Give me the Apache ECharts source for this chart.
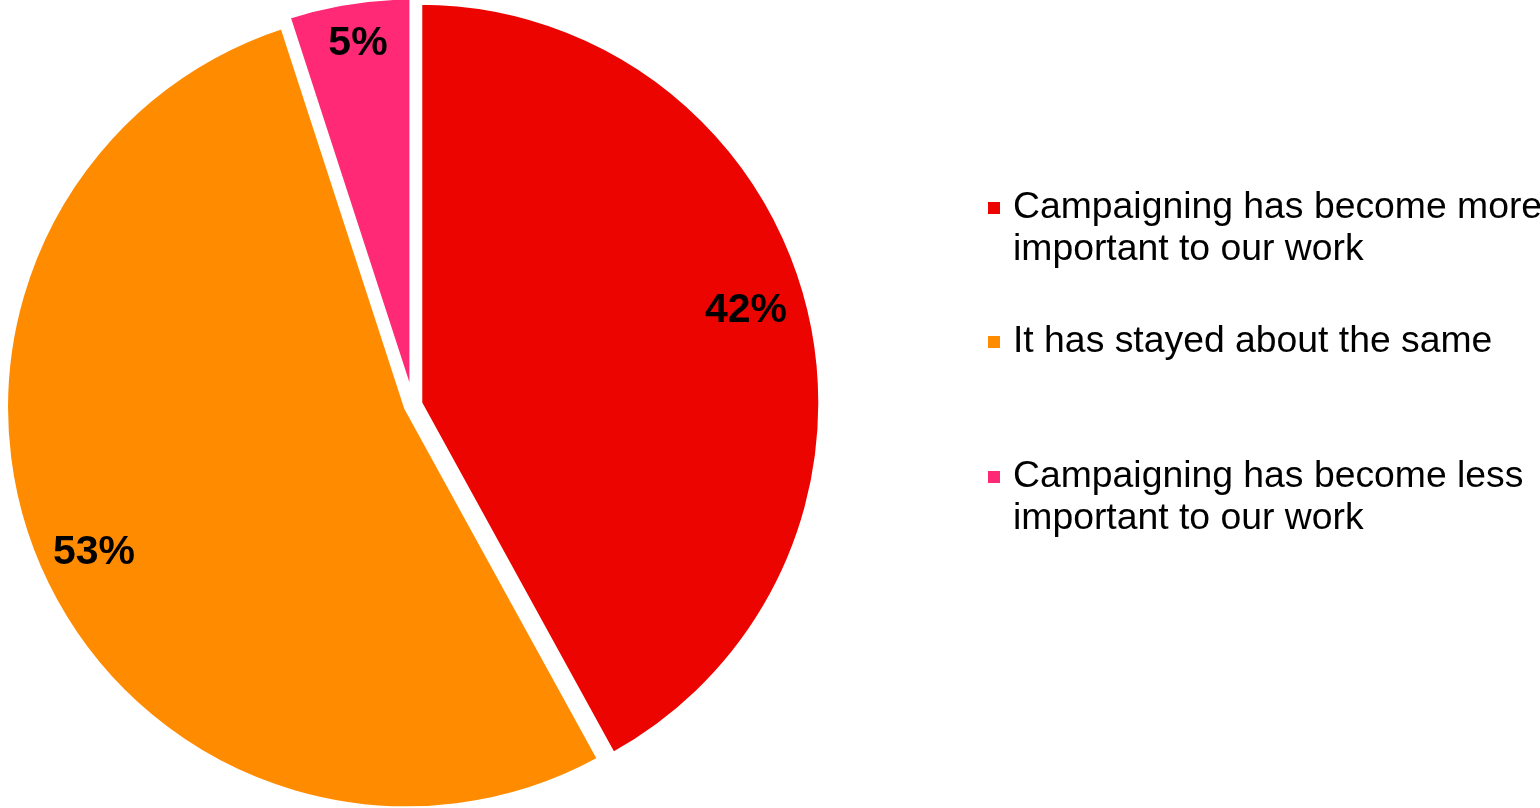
<!DOCTYPE html>
<html>
<head>
<meta charset="utf-8">
<title>Importance of campaigning</title>
<script src="https://cdn.jsdelivr.net/npm/echarts@6/dist/echarts.min.js"></script>
<style>
  html, body { margin: 0; padding: 0; background: #fff; }
  #chart { width: 1540px; height: 808px; }
</style>
</head>
<body>
<div id="chart"></div>
<script>
// Survey answers and their shares (percent)
const categories = [
  'Campaigning has become more\nimportant to our work',
  'It has stayed about the same',
  'Campaigning has become less\nimportant to our work'
];
const shares = [42, 53, 5];
const sliceColors = ['#EC0500', '#FF8C00', '#FF2975'];

const FONT = "'Liberation Sans', Arial, Helvetica, sans-serif";
const PIE_CENTER = [413, 405];
const PIE_RADIUS = 401;

// Hand-placed percentage labels, near the rim of each slice
const labelSpots = [[746, 311], [94, 553], [358, 44]];

const chart = echarts.init(document.getElementById('chart'), null, { renderer: 'canvas' });

// One legend block per answer; two-line entries get an empty leading line so the
// swatch lines up with their first line of text
const LINE_H = 42;
const legendTops = [145, 321, 414];
const legends = categories.map((name, i) => {
  const twoLines = name.indexOf('\n') >= 0;
  return {
    orient: 'vertical',
    left: 988,
    top: legendTops[i],
    padding: 0,
    itemWidth: 12,
    itemHeight: 12,
    icon: 'rect',
    selectedMode: false,
    itemStyle: { borderWidth: 0 },
    formatter: n => (twoLines ? '\n' + n : n),
    data: [{ name: name, textStyle: { padding: [0, 0, 0, 8] } }],
    textStyle: {
      fontFamily: FONT,
      fontSize: 37.33,
      lineHeight: LINE_H,
      color: '#000'
    }
  };
});

chart.setOption({
  animation: false,
  backgroundColor: '#fff',
  legend: legends,
  series: [{
    type: 'pie',
    center: PIE_CENTER,
    radius: PIE_RADIUS,
    startAngle: 90,
    clockwise: true,
    selectedMode: 'multiple',
    selectedOffset: 7,
    avoidLabelOverlap: false,
    emphasis: { disabled: true },
    itemStyle: { borderColor: '#fff', borderWidth: 5 },
    label: { show: false },
    labelLine: { show: false },
    data: categories.map((name, i) => ({
      name: name,
      value: shares[i],
      selected: true,
      itemStyle: { color: sliceColors[i] },
      select: { itemStyle: { color: sliceColors[i], borderColor: '#fff', borderWidth: 5 } }
    }))
  }],
  // Percentage labels, written from the same shares that size the slices
  graphic: shares.map((v, i) => ({
    type: 'text',
    z: 100,
    x: labelSpots[i][0],
    y: labelSpots[i][1],
    silent: true,
    style: {
      text: v + '%',
      font: 'bold 41px ' + FONT,
      fill: '#000',
      align: 'center',
      verticalAlign: 'middle'
    }
  }))
});
</script>
</body>
</html>
